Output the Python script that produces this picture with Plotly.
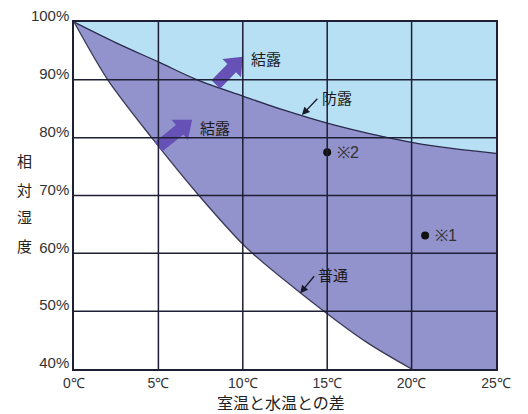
import math
import plotly.graph_objects as go

# ---- data ----
x_ticks = [0, 5, 10, 15, 20, 25]
x_tick_labels = ["0℃", "5℃", "10℃", "15℃", "20℃", "25℃"]
y_ticks = [40, 50, 60, 70, 80, 90, 100]
y_tick_labels = ["40%", "50%", "60%", "70%", "80%", "90%", "100%"]

# 防露 (upper) curve
upper_x = [0, 2.5, 5, 7.3, 10, 12.5, 15, 17.5, 20, 22.5, 25]
upper_y = [100, 96.4, 93.1, 90.0, 87.2, 84.7, 82.5, 80.7, 79.2, 78.1, 77.3]

# 普通 (lower) curve
lower_x = [0, 2, 4.6, 7.4, 10.2, 13.4, 17.35, 20]
lower_y = [100, 90, 80, 70, 61.0, 53.2, 44.6, 40]

# marked points
point_x = [15.0, 20.8]
point_y = [77.5, 63.1]
point_labels = ["※2", "※1"]

# 結露 arrows (tail -> tip)
arrow_tail_x = [5.0, 8.4]
arrow_tail_y = [78.4, 89.2]
arrow_tip_x = [7.0, 10.0]
arrow_tip_y = [83.1, 94.0]
arrow_label_x = [7.35, 10.35]
arrow_label_y = [81.8, 93.7]
arrow_label = ["結露", "結露"]

# curve name labels with pointer (text position -> pointed curve position)
name_text = ["防露", "普通"]
name_x = [14.5, 14.3]
name_y = [87.0, 56.3]
name_tip_x = [13.5, 13.4]
name_tip_y = [83.9, 53.1]

LIGHT_BLUE = "#b8e0f4"
LAVENDER = "#9292cd"
ARROW = "#6652b6"
GRID = "#1e1e34"
JP = "Noto Sans CJK JP"
LAT = "Liberation Sans"

W, H = 528, 414
ML, MR, MT, MB = 74, 32, 22, 45
px_per_x = (W - ML - MR) / (x_ticks[-1] - x_ticks[0])
px_per_y = (H - MT - MB) / (y_ticks[-1] - y_ticks[0])

fig = go.Figure()

fig.add_trace(go.Scatter(
    x=upper_x, y=upper_y, mode="lines", line=dict(color="#2a2a4a", width=1.3, shape="spline"),
    fill="tozeroy", fillcolor=LAVENDER, hoverinfo="skip", showlegend=False))
fig.add_trace(go.Scatter(
    x=lower_x, y=lower_y, mode="lines", line=dict(color="#3a3a55", width=1.3, shape="spline", smoothing=0.8),
    fill="tozeroy", fillcolor="white", hoverinfo="skip", showlegend=False))
fig.add_trace(go.Scatter(
    x=point_x, y=point_y, mode="markers", marker=dict(color="#111", size=8),
    hoverinfo="skip", showlegend=False))

shapes = []
# block arrows: polygon in pixels anchored at the tail point
for tx, ty, hx, hy in zip(arrow_tail_x, arrow_tail_y, arrow_tip_x, arrow_tip_y):
    dxp = (hx - tx) * px_per_x
    dyp = (hy - ty) * px_per_y
    L = math.hypot(dxp, dyp)
    ux, uy = dxp / L, dyp / L
    vx, vy = -uy, ux
    bw, hw, hl = 6, 13, 16
    local = [(0, -bw), (L - hl, -bw), (L - hl, -hw), (L, 0), (L - hl, hw), (L - hl, bw), (0, bw)]
    pts = [(a * ux + b * vx, a * uy + b * vy) for a, b in local]
    path = "M " + " L ".join(f"{p[0]:.2f},{p[1]:.2f}" for p in pts) + " Z"
    shapes.append(dict(type="path", xref="x", yref="y", xsizemode="pixel", ysizemode="pixel",
                       xanchor=tx, yanchor=ty, path=path, fillcolor=ARROW,
                       line=dict(width=0), layer="above"))

for xv in x_ticks[1:-1]:
    shapes.append(dict(type="line", xref="x", yref="y", x0=xv, x1=xv, y0=y_ticks[0], y1=y_ticks[-1],
                       line=dict(color=GRID, width=1.5), layer="above"))
for yv in y_ticks[1:-1]:
    shapes.append(dict(type="line", xref="x", yref="y", x0=x_ticks[0], x1=x_ticks[-1], y0=yv, y1=yv,
                       line=dict(color=GRID, width=1.5), layer="above"))

annotations = []
for lx, ly, t in zip(arrow_label_x, arrow_label_y, arrow_label):
    annotations.append(dict(x=lx, y=ly, xref="x", yref="y", text=t, showarrow=False,
                            xanchor="left", yanchor="middle", font=dict(family=JP, size=15, color="#1a1a1a")))
for t, lx, ly, hx, hy in zip(name_text, name_x, name_y, name_tip_x, name_tip_y):
    annotations.append(dict(x=hx, y=hy, ax=lx, ay=ly, xref="x", yref="y", axref="x", ayref="y",
                            text="", showarrow=True, arrowhead=2, arrowsize=1.2, arrowwidth=1.3,
                            arrowcolor="#1a1a2a", standoff=0))
    annotations.append(dict(x=lx, y=ly, xref="x", yref="y", text=t, showarrow=False,
                            xanchor="left", yanchor="middle", xshift=1,
                            font=dict(family=JP, size=15, color="#1a1a1a")))
for px, py, t in zip(point_x, point_y, point_labels):
    annotations.append(dict(x=px, y=py, xref="x", yref="y", text=t, showarrow=False,
                            xanchor="left", yanchor="middle", xshift=8,
                            font=dict(family=LAT, size=16, color="#333")))

# axis titles
annotations.append(dict(x=0.49, y=-0.094, xref="paper", yref="paper", text="室温と水温との差",
                        showarrow=False, xanchor="center", yanchor="middle",
                        font=dict(family=JP, size=16, color="#222")))
y_title_chars = ["相", "対", "湿", "度"]
y_title_pos = [0.602, 0.518, 0.440, 0.357]
for ch, yp in zip(y_title_chars, y_title_pos):
    annotations.append(dict(x=-0.118, y=yp, xref="paper", yref="paper", text=ch, showarrow=False,
                            xanchor="center", yanchor="middle",
                            font=dict(family=JP, size=15, color="#222")))

fig.update_layout(
    width=W, height=H,
    margin=dict(l=ML, r=MR, t=MT, b=MB, autoexpand=False),
    paper_bgcolor="white", plot_bgcolor=LIGHT_BLUE,
    shapes=shapes, annotations=annotations,
    xaxis=dict(range=[x_ticks[0], x_ticks[-1]], tickvals=x_ticks, ticktext=x_tick_labels,
               automargin=False,
               showgrid=False, zeroline=False, showline=True, mirror=True, linecolor=GRID, linewidth=1.5,
               ticks="", ticklabelstandoff=0, tickfont=dict(family=LAT, size=14, color="#333")),
    yaxis=dict(range=[y_ticks[0], y_ticks[-1]], tickvals=y_ticks, ticktext=y_tick_labels,
               automargin=False,
               showgrid=False, zeroline=False, showline=True, mirror=True, linecolor=GRID, linewidth=1.5,
               ticks="", ticklabelstandoff=0, ticklabelshift=-6,
               tickfont=dict(family=LAT, size=15, color="#333")),
)

fig.write_html("out.html", config={"displayModeBar": False},
               post_script="document.body.style.margin='0';document.body.style.overflow='hidden';")
